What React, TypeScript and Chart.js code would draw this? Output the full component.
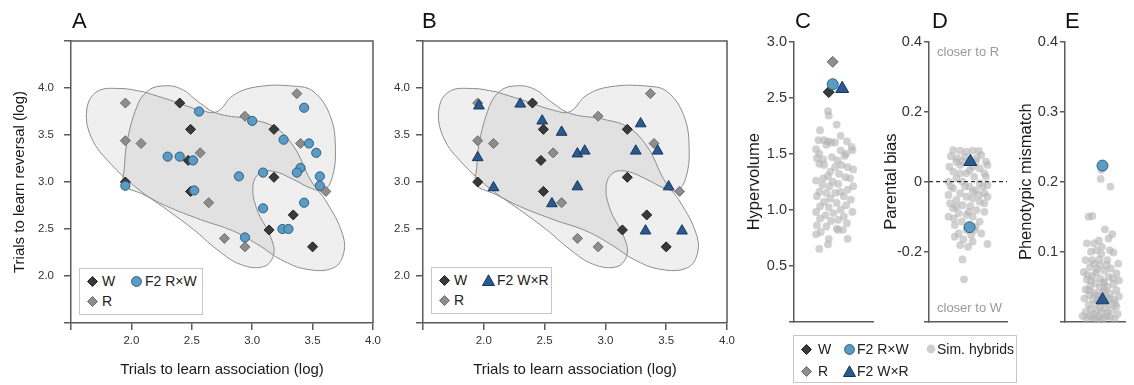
import React, { useEffect, useRef } from 'react';
import { Chart, registerables } from 'chart.js';

Chart.register(...registerables);

const FONT = '"Liberation Sans", Arial, Helvetica, sans-serif';
Chart.defaults.font.family = FONT;

const AXIS = '#5a5a5a';
const TICK = '#333333';
const TITLE = '#1a1a1a';
const W_FILL = '#3a3a3a';
const W_EDGE = '#1f1f1f';
const R_FILL = '#8d8d8d';
const R_EDGE = '#6c6c6c';
const RW_FILL = '#5b9cc6';
const RW_EDGE = '#2f5f80';
const WR_FILL = '#2a5a8f';
const WR_EDGE = '#17375c';
const SIM_FILL = 'rgba(180,180,180,0.62)';
const HULL_FILL = 'rgba(128,128,128,0.13)';
const HULL_EDGE = '#8c8c8c';

// ---------- Panels A & B : parental and F2 individuals ----------
const wAssoc = [2.40, 2.49, 2.47, 2.49, 1.95, 3.18, 3.18, 3.34, 3.14, 3.50];
const wRev = [3.84, 3.56, 3.23, 2.90, 3.00, 3.56, 3.05, 2.65, 2.49, 2.31];

const rAssoc = [1.95, 1.95, 2.08, 2.57, 2.64, 2.77, 2.94, 2.94, 3.37, 3.40, 3.61];
const rRev = [3.84, 3.44, 3.41, 3.31, 2.78, 2.40, 2.31, 3.70, 3.94, 3.41, 2.90];

const f2rwAssoc = [2.56, 3.00, 3.26, 3.43, 3.47, 3.53, 3.40, 3.37, 3.56, 3.56, 3.43, 3.09, 3.09, 3.25, 3.30, 2.94, 2.89, 2.30, 2.40, 2.51, 2.52, 1.95];
const f2rwRev = [3.75, 3.65, 3.45, 3.79, 3.41, 3.31, 3.15, 3.10, 3.06, 2.96, 2.78, 3.10, 2.72, 2.50, 2.50, 2.41, 3.06, 3.27, 3.27, 3.23, 2.91, 2.96];

const f2wrAssoc = [1.96, 2.30, 2.48, 2.64, 1.95, 2.08, 2.56, 2.77, 2.83, 2.77, 3.29, 3.25, 3.43, 3.52, 3.33, 3.63];
const f2wrRev = [3.81, 3.83, 3.65, 3.53, 3.26, 2.94, 2.77, 3.30, 3.33, 2.95, 3.62, 3.33, 3.33, 2.95, 2.48, 2.48];

// hypervolume outlines (contours)
const hullWAssoc = [2.957, 3.178, 3.344, 3.482, 3.620, 3.744, 3.758, 3.675, 3.454, 3.233, 3.067, 2.846, 2.570, 2.293, 2.072, 1.960, 1.930, 1.940, 1.962, 2.045, 2.127, 2.238, 2.404, 2.570, 2.708, 2.957];
const hullWRev = [3.677, 3.589, 3.377, 3.024, 2.777, 2.459, 2.247, 2.088, 2.071, 2.177, 2.318, 2.477, 2.601, 2.742, 2.883, 2.940, 3.000, 3.130, 3.413, 3.801, 3.960, 4.020, 3.995, 3.837, 3.730, 3.677];

const hullRAssoc = [2.100, 2.321, 2.570, 2.708, 2.846, 3.040, 3.344, 3.509, 3.648, 3.689, 3.661, 3.592, 3.482, 3.344, 3.178, 3.062, 3.006, 3.040, 3.150, 3.178, 3.095, 2.901, 2.708, 2.514, 2.293, 2.045, 1.823, 1.671, 1.630, 1.713, 1.906, 2.100];
const hullRRev = [3.960, 3.871, 3.765, 3.748, 3.924, 4.013, 4.020, 3.960, 3.695, 3.342, 3.042, 2.912, 2.936, 3.025, 3.113, 3.095, 2.954, 2.706, 2.424, 2.230, 2.100, 2.124, 2.283, 2.495, 2.706, 2.936, 3.201, 3.466, 3.766, 3.960, 3.995, 3.960];

// ---------- Panel C : hypervolume ----------
const hvTickLabels = ['', '0.5', '1.0', '1.5', '2.5', '3.0'];
const hvSimJitter = [0.43, 0.44, 0.54, 0.33, 0.59, 0.31, 0.38, 0.43, 0.47, 0.52, 0.67, 0.73, 0.41, 0.28, 0.32, 0.59, 0.66, 0.74, 0.48, 0.37, 0.29, 0.55, 0.64, 0.60, 0.52, 0.68, 0.38, 0.32, 0.75, 0.46, 0.57, 0.43, 0.37, 0.65, 0.71, 0.28, 0.49, 0.56, 0.36, 0.45, 0.75, 0.68, 0.32, 0.41, 0.59, 0.52, 0.29, 0.63, 0.46, 0.72, 0.38, 0.54, 0.66, 0.33, 0.44, 0.59, 0.28, 0.50, 0.74, 0.40, 0.63, 0.33, 0.56, 0.47, 0.67, 0.29, 0.41, 0.54, 0.62, 0.34, 0.28, 0.44, 0.68, 0.56, 0.32, 0.43];
const hvSimValue = [2.38, 2.34, 2.26, 2.21, 2.16, 2.12, 2.12, 2.11, 2.10, 2.10, 2.11, 2.06, 2.08, 2.04, 2.00, 2.03, 2.00, 2.03, 1.97, 1.95, 1.96, 1.94, 1.98, 1.90, 1.88, 1.88, 1.90, 1.91, 1.86, 1.84, 1.82, 1.80, 1.78, 1.79, 1.78, 1.76, 1.75, 1.73, 1.72, 1.71, 1.71, 1.68, 1.66, 1.65, 1.66, 1.65, 1.62, 1.62, 1.60, 1.59, 1.57, 1.56, 1.54, 1.53, 1.52, 1.50, 1.48, 1.47, 1.48, 1.45, 1.44, 1.42, 1.41, 1.40, 1.38, 1.36, 1.35, 1.33, 1.32, 1.30, 1.28, 1.24, 1.24, 1.32, 1.15, 1.19];
// order: W, R, F2 RxW, F2 WxR
const hvMarkJitter = [0.44, 0.49, 0.49, 0.61];
const hvMarkValue = [2.55, 2.82, 2.62, 2.58];

// ---------- Panel D : parental bias ----------
const pbSimJitter = [0.31, 0.40, 0.48, 0.56, 0.64, 0.28, 0.36, 0.46, 0.61, 0.73, 0.75, 0.26, 0.40, 0.56, 0.65, 0.31, 0.48, 0.58, 0.71, 0.35, 0.25, 0.43, 0.65, 0.75, 0.52, 0.31, 0.60, 0.40, 0.71, 0.25, 0.48, 0.56, 0.75, 0.35, 0.65, 0.43, 0.53, 0.31, 0.61, 0.71, 0.38, 0.48, 0.25, 0.56, 0.42, 0.65, 0.33, 0.60, 0.48, 0.38, 0.54, 0.44, 0.33, 0.67, 0.75, 0.43, 0.45, 0.56, 0.50, 0.40, 0.28, 0.60, 0.52, 0.40, 0.69, 0.46, 0.56, 0.35, 0.64, 0.51, 0.32, 0.58, 0.71, 0.27, 0.73, 0.43, 0.35, 0.52, 0.67];
const pbSimValue = [0.090, 0.089, 0.086, 0.089, 0.088, 0.073, 0.067, 0.071, 0.067, 0.057, 0.048, 0.043, 0.048, 0.043, 0.038, 0.029, 0.024, 0.014, 0.024, 0.010, 0.000, 0.000, -0.005, -0.010, -0.014, -0.019, -0.024, -0.033, -0.033, -0.038, -0.043, -0.048, -0.043, -0.052, -0.057, -0.067, -0.070, -0.076, -0.081, -0.086, -0.090, -0.095, -0.100, -0.100, -0.114, -0.114, -0.124, -0.129, -0.138, -0.148, -0.152, -0.165, -0.157, -0.148, -0.178, -0.222, -0.279, -0.171, -0.186, -0.181, -0.014, 0.057, 0.033, 0.024, -0.014, -0.014, -0.029, -0.071, -0.038, -0.086, -0.105, -0.138, -0.062, -0.062, 0.014, 0.057, 0.057, 0.062, 0.076];
// order: F2 RxW, F2 WxR
const pbMarkJitter = [0.52, 0.53];
const pbMarkValue = [-0.130, 0.057];

// ---------- Panel E : phenotypic mismatch ----------
const pmSimJitter = [0.59, 0.75, 0.39, 0.45, 0.66, 0.78, 0.72, 0.56, 0.36, 0.52, 0.43, 0.60, 0.80, 0.70, 0.34, 0.48, 0.88, 0.58, 0.41, 0.76, 0.65, 0.31, 0.51, 0.85, 0.45, 0.72, 0.58, 0.36, 0.89, 0.64, 0.50, 0.80, 0.42, 0.70, 0.57, 0.34, 0.85, 0.63, 0.48, 0.75, 0.40, 0.56, 0.89, 0.68, 0.32, 0.46, 0.80, 0.60, 0.51, 0.72, 0.39, 0.85, 0.58, 0.65, 0.43, 0.77, 0.53, 0.34, 0.70, 0.60, 0.48, 0.87, 0.41, 0.56, 0.75, 0.65, 0.36, 0.51, 0.82, 0.59, 0.46, 0.70, 0.29, 0.55, 0.66, 0.43, 0.79, 0.53, 0.37, 0.69, 0.57, 0.45, 0.61, 0.74, 0.48, 0.64, 0.52, 0.83, 0.40, 0.73, 0.60];
const pmSimValue = [0.204, 0.193, 0.150, 0.151, 0.132, 0.125, 0.119, 0.116, 0.112, 0.102, 0.100, 0.097, 0.099, 0.088, 0.088, 0.083, 0.083, 0.081, 0.078, 0.076, 0.073, 0.071, 0.070, 0.069, 0.065, 0.064, 0.062, 0.060, 0.059, 0.057, 0.055, 0.054, 0.051, 0.050, 0.049, 0.046, 0.045, 0.043, 0.041, 0.040, 0.038, 0.037, 0.036, 0.035, 0.033, 0.032, 0.031, 0.029, 0.026, 0.025, 0.024, 0.022, 0.021, 0.019, 0.018, 0.017, 0.016, 0.014, 0.013, 0.012, 0.011, 0.011, 0.008, 0.007, 0.007, 0.005, 0.004, 0.003, 0.003, 0.002, 0.006, 0.008, 0.008, 0.031, 0.045, 0.059, 0.062, 0.075, 0.067, 0.081, 0.089, 0.088, 0.107, 0.102, 0.112, 0.055, 0.038, 0.026, 0.045, 0.033, 0.217];
// order: F2 RxW, F2 WxR
const pmMarkJitter = [0.62, 0.62];
const pmMarkValue = [0.223, 0.031];

// ---------- helpers ----------
const zip = (xs: number[], ys: number[]) => xs.map((x, i) => ({ x, y: ys[i] }));

const boxPlugin = {
  id: 'boxFrame',
  afterDraw(chart: any) {
    const { ctx, chartArea: a } = chart;
    ctx.save();
    ctx.strokeStyle = AXIS;
    ctx.lineWidth = 1.5;
    ctx.beginPath();
    ctx.moveTo(a.left, a.top);
    ctx.lineTo(a.right, a.top);
    ctx.lineTo(a.right, a.bottom);
    ctx.stroke();
    ctx.restore();
  },
};

function pointSet(data: any[], style: string, radius: number, fill: string, edge: string, order: number) {
  return {
    data,
    pointStyle: style,
    pointRadius: radius,
    pointHoverRadius: radius,
    pointBackgroundColor: fill,
    pointBorderColor: edge,
    pointBorderWidth: 1,
    backgroundColor: fill,
    borderColor: edge,
    order,
  };
}

function hullSet(data: any[], order: number) {
  return {
    type: 'line',
    data,
    showLine: true,
    fill: 'shape',
    tension: 0.4,
    pointRadius: 0,
    pointHoverRadius: 0,
    borderColor: HULL_EDGE,
    borderWidth: 1,
    backgroundColor: HULL_FILL,
    order,
  };
}

function panelABConfig(f2: any, yWidth: number, padRight: number, yTitle: boolean, yPad: number) {
  return {
    type: 'scatter',
    data: {
      datasets: [
        f2,
        pointSet(zip(wAssoc, wRev), 'rectRot', 5, W_FILL, W_EDGE, 2),
        pointSet(zip(rAssoc, rRev), 'rectRot', 5, R_FILL, R_EDGE, 3),
        hullSet(zip(hullWAssoc, hullWRev), 6),
        hullSet(zip(hullRAssoc, hullRRev), 7),
      ],
    },
    options: {
      animation: false,
      responsive: false,
      devicePixelRatio: 1,
      events: [],
      layout: { padding: { left: 0, top: 41, right: padRight, bottom: 0 } },
      plugins: { legend: { display: false }, tooltip: { enabled: false } },
      scales: {
        x: {
          type: 'linear',
          min: 1.5,
          max: 4.0,
          afterFit: (s: any) => { s.height = 62; },
          ticks: {
            stepSize: 0.5,
            padding: 4,
            color: TICK,
            autoSkip: false,
            maxRotation: 0,
            font: { family: FONT, size: 11.5 },
            callback: (v: any) => (Math.abs(v - 1.5) < 1e-6 ? '' : Number(v).toFixed(1)),
          },
          grid: { display: true, drawOnChartArea: false, drawTicks: true, tickLength: 7, color: AXIS, lineWidth: 1.5 },
          border: { display: true, color: AXIS, width: 1.5 },
          title: {
            display: true,
            text: 'Trials to learn association (log)',
            color: TITLE,
            font: { family: FONT, size: 15 },
            padding: { top: 0, bottom: 6 },
          },
        },
        y: {
          type: 'linear',
          min: 1.5,
          max: 4.5,
          afterFit: (s: any) => { s.width = yWidth; },
          ticks: {
            stepSize: 0.5,
            padding: yPad,
            color: TICK,
            autoSkip: false,
            font: { family: FONT, size: 11.5 },
            callback: (v: any) => (Math.abs(v - 1.5) < 1e-6 || Math.abs(v - 4.5) < 1e-6 ? '' : Number(v).toFixed(1)),
          },
          grid: { display: true, drawOnChartArea: false, drawTicks: true, tickLength: 7, color: AXIS, lineWidth: 1.5 },
          border: { display: true, color: AXIS, width: 1.5 },
          title: {
            display: yTitle,
            text: 'Trials to learn reversal (log)',
            color: TITLE,
            font: { family: FONT, size: 15 },
            padding: { top: 11, bottom: 0 },
          },
        },
      },
    },
    plugins: [boxPlugin],
  };
}

function stripConfig(opts: {
  datasets: any[];
  yMin: number;
  yMax: number;
  step: number;
  label: (v: number, i: number) => string;
  title: string;
  yWidth: number;
  padRight: number;
  titlePad: number;
}) {
  return {
    type: 'scatter',
    data: { datasets: opts.datasets },
    options: {
      animation: false,
      responsive: false,
      devicePixelRatio: 1,
      events: [],
      layout: { padding: { left: 0, top: 41.7, right: opts.padRight, bottom: 0 } },
      plugins: { legend: { display: false }, tooltip: { enabled: false } },
      scales: {
        x: {
          type: 'linear',
          min: 0,
          max: 1,
          afterFit: (s: any) => { s.height = 63.3; },
          ticks: { display: false },
          grid: { display: false },
          border: { display: true, color: AXIS, width: 1.5 },
        },
        y: {
          type: 'linear',
          min: opts.yMin,
          max: opts.yMax,
          afterFit: (s: any) => { s.width = opts.yWidth; },
          ticks: {
            stepSize: opts.step,
            padding: 2,
            color: TICK,
            autoSkip: false,
            font: { family: FONT, size: 14.5 },
            callback: (v: any, i: number) => opts.label(Number(v), i),
          },
          grid: { display: true, drawOnChartArea: false, drawTicks: true, tickLength: 5, color: AXIS, lineWidth: 1.5 },
          border: { display: true, color: AXIS, width: 1.5 },
          title: {
            display: true,
            text: opts.title,
            color: TITLE,
            font: { family: FONT, size: 16.5 },
            padding: { top: opts.titlePad, bottom: 0 },
          },
        },
      },
    },
  };
}

const simSet = (xs: number[], ys: number[]) => ({
  data: zip(xs, ys),
  pointStyle: 'circle',
  pointRadius: 3.9,
  pointHoverRadius: 3.9,
  pointBackgroundColor: SIM_FILL,
  pointBorderWidth: 0,
  order: 8,
});

const one = (x: number, y: number) => [{ x, y }];

function configA() {
  return panelABConfig(pointSet(zip(f2rwAssoc, f2rwRev), 'circle', 4.6, RW_FILL, RW_EDGE, 1), 71, 17, true, 10);
}
function configB() {
  return panelABConfig(pointSet(zip(f2wrAssoc, f2wrRev), 'triangle', 6.2, WR_FILL, WR_EDGE, 1), 38, 13, false, 6);
}
function configC() {
  return stripConfig({
    datasets: [
      pointSet(one(hvMarkJitter[3], hvMarkValue[3]), 'triangle', 7.5, WR_FILL, WR_EDGE, 0),
      pointSet(one(hvMarkJitter[2], hvMarkValue[2]), 'circle', 5.5, RW_FILL, RW_EDGE, 1),
      pointSet(one(hvMarkJitter[0], hvMarkValue[0]), 'rectRot', 5.5, W_FILL, W_EDGE, 2),
      pointSet(one(hvMarkJitter[1], hvMarkValue[1]), 'rectRot', 5.5, R_FILL, R_EDGE, 3),
      simSet(hvSimJitter, hvSimValue),
    ],
    yMin: 0.5,
    yMax: 3.0,
    step: 0.5,
    label: (_v, i) => hvTickLabels[i] ?? '',
    title: 'Hypervolume',
    yWidth: 59,
    padRight: 12,
    titlePad: 10,
  });
}
function configD() {
  return stripConfig({
    datasets: [
      pointSet(one(pbMarkJitter[1], pbMarkValue[1]), 'triangle', 7.5, WR_FILL, WR_EDGE, 0),
      pointSet(one(pbMarkJitter[0], pbMarkValue[0]), 'circle', 5.5, RW_FILL, RW_EDGE, 1),
      {
        type: 'line',
        data: [{ x: 0, y: 0 }, { x: 1, y: 0 }],
        borderColor: '#333333',
        borderWidth: 1.2,
        borderDash: [4, 3],
        pointRadius: 0,
        fill: false,
        order: 6,
      },
      simSet(pbSimJitter, pbSimValue),
    ],
    yMin: -0.4,
    yMax: 0.4,
    step: 0.2,
    label: (v, i) => (i === 0 ? '' : Math.abs(v) < 1e-9 ? '0' : v.toFixed(1)),
    title: 'Parental bias',
    yWidth: 54,
    padRight: 13,
    titlePad: 7,
  });
}
function configE() {
  return stripConfig({
    datasets: [
      pointSet(one(pmMarkJitter[1], pmMarkValue[1]), 'triangle', 7.5, WR_FILL, WR_EDGE, 0),
      pointSet(one(pmMarkJitter[0], pmMarkValue[0]), 'circle', 5.5, RW_FILL, RW_EDGE, 1),
      simSet(pmSimJitter, pmSimValue),
    ],
    yMin: 0,
    yMax: 0.4,
    step: 0.1,
    label: (v, i) => (i === 0 ? '' : v.toFixed(1)),
    title: 'Phenotypic mismatch',
    yWidth: 55,
    padRight: 0,
    titlePad: 7,
  });
}

function ChartCanvas({ left, width, make }: { left: number; width: number; make: () => any }) {
  const ref = useRef<HTMLCanvasElement | null>(null);
  useEffect(() => {
    if (!ref.current) return;
    const chart = new Chart(ref.current, make());
    return () => chart.destroy();
  }, []);
  return (
    <canvas
      ref={ref}
      width={width}
      height={385}
      style={{ position: 'absolute', left, top: 0, width, height: 385 }}
    />
  );
}

type Kind = 'diamond' | 'circle' | 'triangle';

function Marker({ kind, fill, edge, cx, cy, size }: { kind: Kind; fill: string; edge: string; cx: number; cy: number; size: number }) {
  const s = size;
  let shape;
  if (kind === 'diamond') {
    shape = <polygon points={`${s / 2},0.5 ${s - 0.5},${s / 2} ${s / 2},${s - 0.5} 0.5,${s / 2}`} fill={fill} stroke={edge} strokeWidth={1} />;
  } else if (kind === 'circle') {
    shape = <circle cx={s / 2} cy={s / 2} r={s / 2 - 0.6} fill={fill} stroke={edge} strokeWidth={edge === 'none' ? 0 : 1} />;
  } else {
    shape = <polygon points={`${s / 2},0.8 ${s - 0.5},${s - 1.5} 0.5,${s - 1.5}`} fill={fill} stroke={edge} strokeWidth={1} />;
  }
  return (
    <svg width={s} height={s} style={{ position: 'absolute', left: cx - s / 2, top: cy - s / 2, overflow: 'visible' }}>
      {shape}
    </svg>
  );
}

function Label({ x, cy, text }: { x: number; cy: number; text: string }) {
  return (
    <div style={{ position: 'absolute', left: x, top: cy - 9, height: 18, lineHeight: '18px', fontSize: 14, color: '#222', whiteSpace: 'nowrap' }}>
      {text}
    </div>
  );
}

function Letter({ x, text }: { x: number; text: string }) {
  return (
    <div style={{ position: 'absolute', left: x, top: 10, fontSize: 22, lineHeight: '22px', color: '#111' }}>{text}</div>
  );
}

const legendBox = (left: number, top: number, width: number, height: number) => ({
  position: 'absolute' as const,
  left,
  top,
  width,
  height,
  border: '1px solid #c6c6c6',
  background: '#ffffff',
  boxSizing: 'border-box' as const,
});

export default function App() {
  return (
    <div style={{ position: 'fixed', left: 0, top: 0, width: 1134, height: 385, background: '#ffffff', overflow: 'hidden', fontFamily: FONT }}>
      <ChartCanvas left={0} width={390} make={configA} />
      <ChartCanvas left={385} width={355} make={configB} />
      <ChartCanvas left={735} width={150} make={configC} />
      <ChartCanvas left={875} width={145} make={configD} />
      <ChartCanvas left={1010} width={124} make={configE} />

      <Letter x={72} text="A" />
      <Letter x={422} text="B" />
      <Letter x={795} text="C" />
      <Letter x={932} text="D" />
      <Letter x={1065} text="E" />

      <div style={{ position: 'absolute', left: 937, top: 44, fontSize: 13, lineHeight: '16px', color: '#9a9a9a' }}>closer to R</div>
      <div style={{ position: 'absolute', left: 937, top: 300, fontSize: 13, lineHeight: '16px', color: '#9a9a9a' }}>closer to W</div>

      {/* Legend A */}
      <div style={legendBox(79, 268, 124, 47)}>
        <Marker kind="diamond" fill={W_FILL} edge={W_EDGE} cx={12} cy={12} size={11} />
        <Label x={22} cy={12} text="W" />
        <Marker kind="circle" fill={RW_FILL} edge={RW_EDGE} cx={56} cy={12} size={11} />
        <Label x={65} cy={12} text="F2 R×W" />
        <Marker kind="diamond" fill={R_FILL} edge={R_EDGE} cx={12} cy={32} size={11} />
        <Label x={22} cy={32} text="R" />
      </div>

      {/* Legend B */}
      <div style={legendBox(431, 267, 121, 47)}>
        <Marker kind="diamond" fill={W_FILL} edge={W_EDGE} cx={12} cy={12} size={11} />
        <Label x={22} cy={12} text="W" />
        <Marker kind="triangle" fill={WR_FILL} edge={WR_EDGE} cx={56} cy={12} size={13} />
        <Label x={65} cy={12} text="F2 W×R" />
        <Marker kind="diamond" fill={R_FILL} edge={R_EDGE} cx={12} cy={32} size={11} />
        <Label x={22} cy={32} text="R" />
      </div>

      {/* Shared legend under C-E */}
      <div style={legendBox(793, 335, 224, 48)}>
        <Marker kind="diamond" fill={W_FILL} edge={W_EDGE} cx={12.5} cy={13} size={11} />
        <Label x={24} cy={13} text="W" />
        <Marker kind="circle" fill={RW_FILL} edge={RW_EDGE} cx={55} cy={13} size={11} />
        <Label x={63} cy={13} text="F2 R×W" />
        <Marker kind="circle" fill="#cfcfcf" edge="none" cx={137} cy={13} size={10} />
        <Label x={143} cy={13} text="Sim. hybrids" />
        <Marker kind="diamond" fill={R_FILL} edge={R_EDGE} cx={12.5} cy={35} size={11} />
        <Label x={24} cy={35} text="R" />
        <Marker kind="triangle" fill={WR_FILL} edge={WR_EDGE} cx={55} cy={35} size={13} />
        <Label x={63} cy={35} text="F2 W×R" />
      </div>
    </div>
  );
}
